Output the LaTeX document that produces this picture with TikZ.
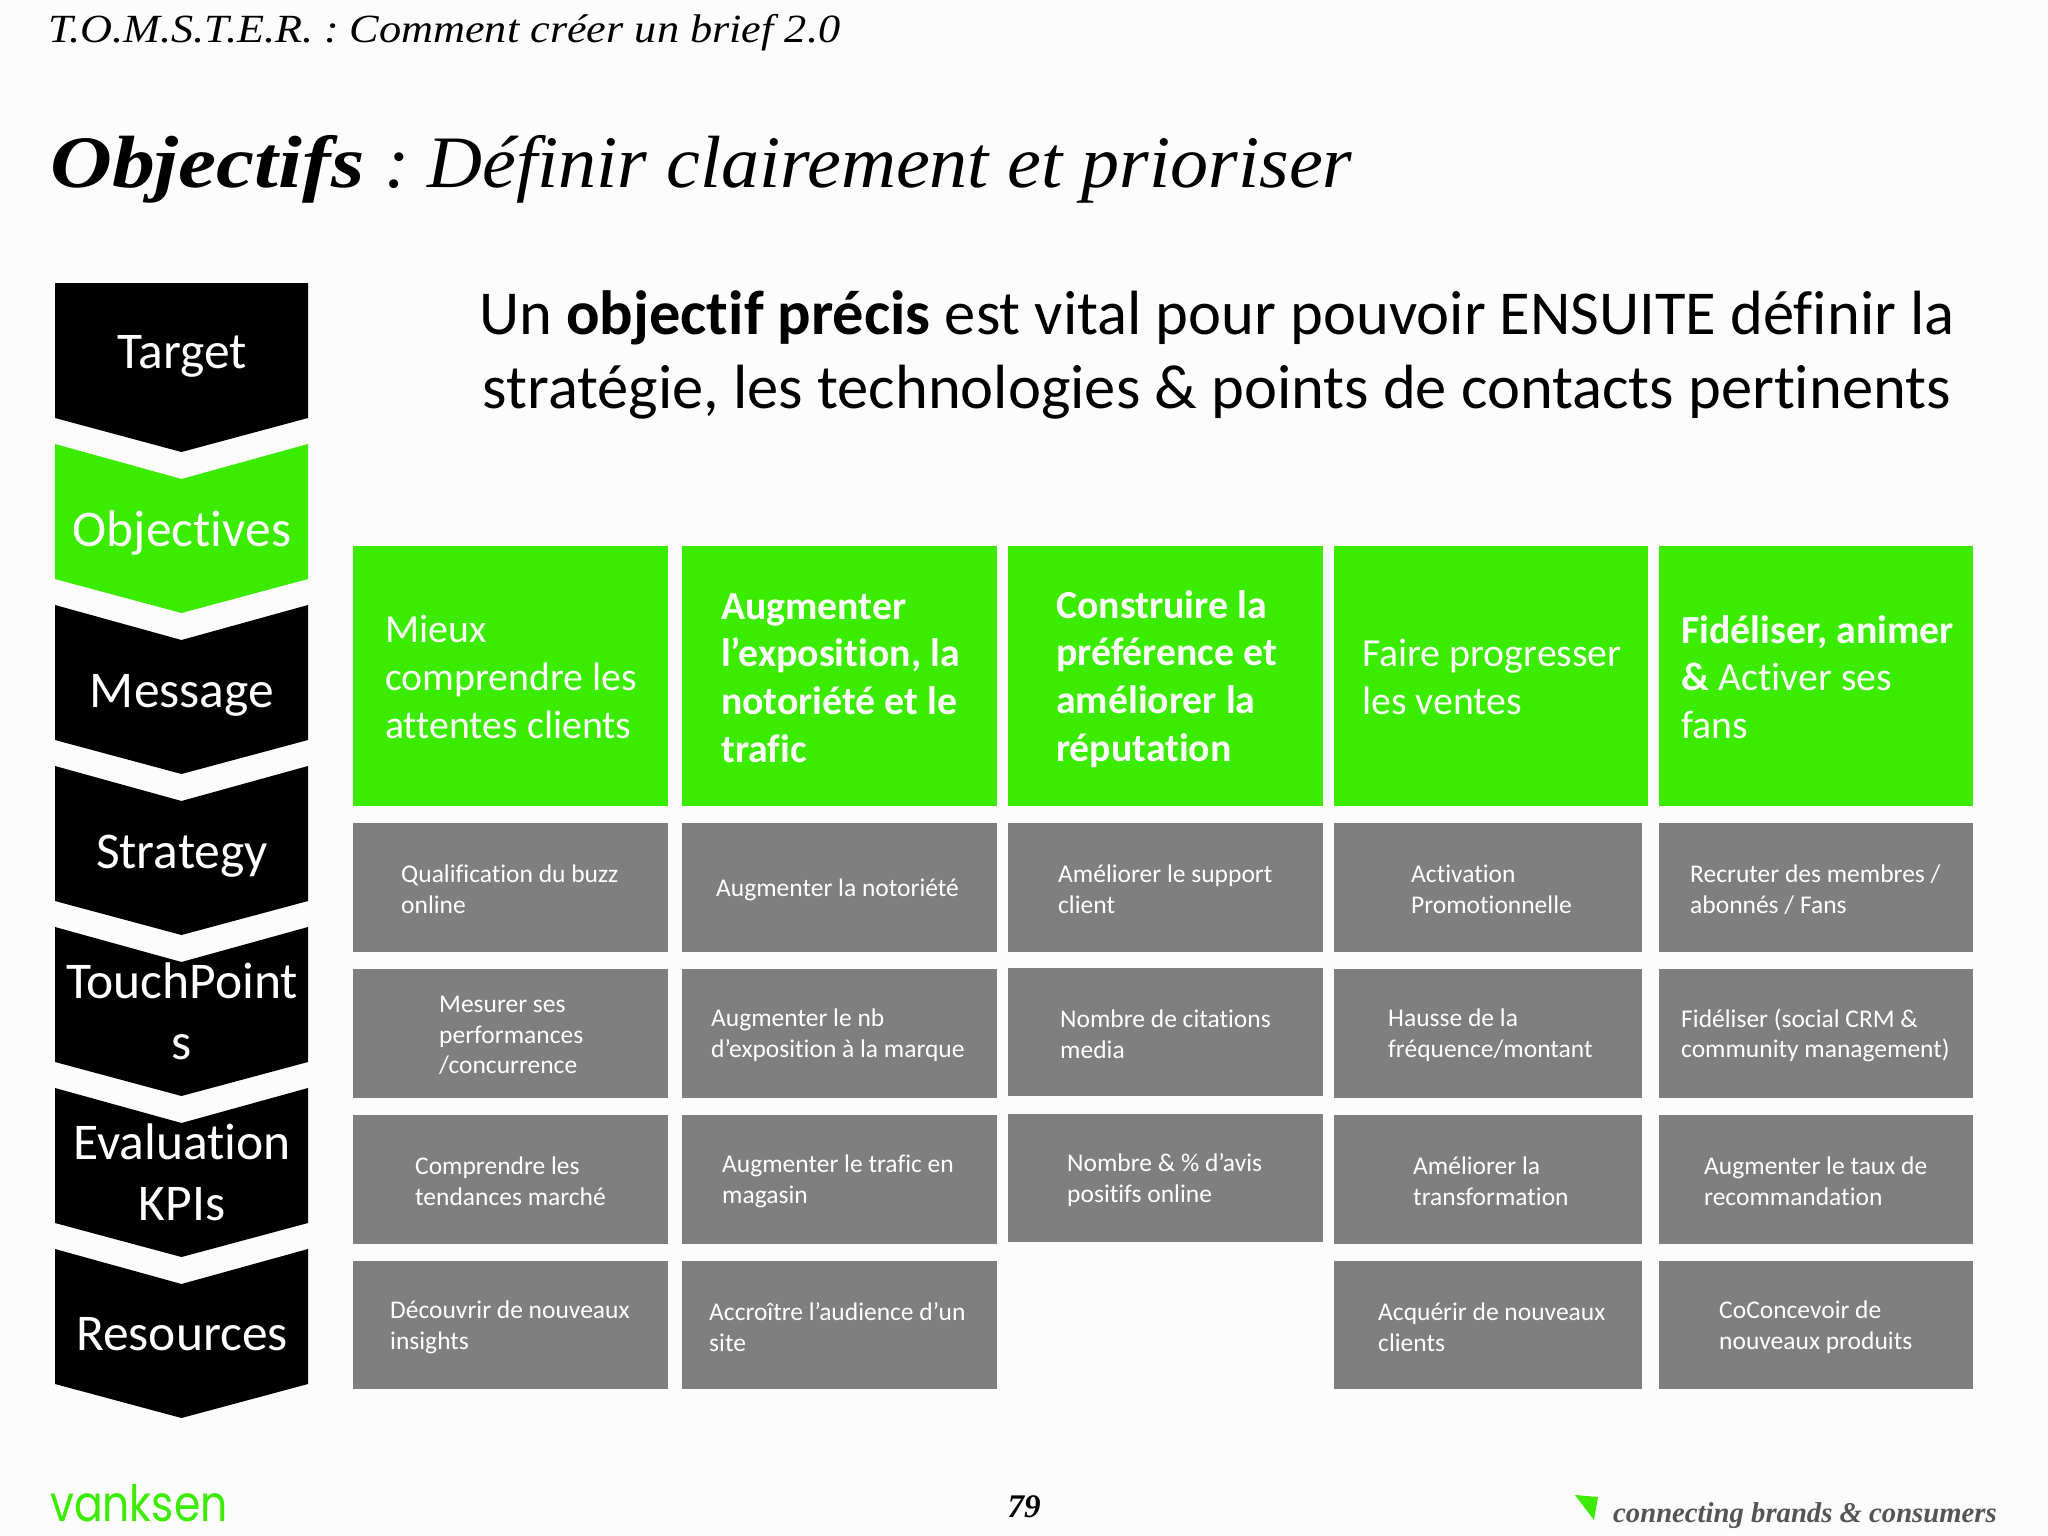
\documentclass[tikz,border=0pt]{standalone}
\usepackage{fontspec}
\setmainfont[Ligatures=NoCommon]{Carlito}
\newfontfamily\titlefont{Liberation Serif}
\newfontfamily\logofont{Poppins}
\definecolor{bggrey}{HTML}{FCFCFC}
\definecolor{vgreen}{HTML}{3BEB00}
\definecolor{vgrey}{HTML}{7F7F7F}
\definecolor{tagrey}{HTML}{555555}
\tikzset{
  chevblack/.style={fill=black},
  chevgreen/.style={fill=vgreen},
  chevtext/.style={text=white,align=center,inner sep=0pt,font=\fontsize{51.5}{61}\selectfont},
  headtext/.style={text=white,align=left,anchor=west,inner sep=0pt,font=\fontsize{39.8}{47.7}\selectfont},
  celltext/.style={text=white,align=left,anchor=west,inner sep=0pt,font=\fontsize{25.5}{30.7}\selectfont},
}
\newcommand{\chev}[2]{\path[#2] (55,#1) -- ++(126.5,35) -- ++(126.5,-35) -- ++(0,135) -- ++(-126.5,34) -- ++(-126.5,-34) -- cycle;}
\newcommand{\headbox}[6]{\fill[vgreen] (#1,546) rectangle (#2,806);
  \node[headtext] (#3) at (#4,#5) {#6};}
\newcommand{\cellbox}[7]{\fill[vgrey] (#1,#3) rectangle (#2,#4);
  \node[celltext] (#5) at (#6,{(#3+#4)/2+2}) {#7};}
\begin{document}
\begin{tikzpicture}[x=1pt,y=-1pt]
\useasboundingbox (0,0) rectangle (2048,1536);
\fill[bggrey] (0,0) rectangle (2048,1536);
% titles
\node[anchor=west,inner sep=0pt,xscale=1.107,transform shape,font=\titlefont\itshape\fontsize{40}{46}\selectfont] (sup) at (48,33) {T.O.M.S.T.E.R. :\hspace{-4pt} Comment créer un brief 2.0};
\node[anchor=west,inner sep=0pt,xscale=1.158,transform shape,font=\titlefont\itshape\bfseries\fontsize{74}{84}\selectfont] (title) at (50,169) {Objectifs};
\node[anchor=west,inner sep=0pt,xscale=1.028,transform shape,font=\titlefont\itshape\fontsize{74}{84}\selectfont] (subtitle) at (384,169) {:\hspace{-7pt} Définir clairement et prioriser};
\node[align=center,inner sep=0pt,font=\fontsize{62.5}{74.6}\selectfont] (lead) at (1217,355) {Un \textbf{objectif précis} est vital pour pouvoir ENSUITE définir la\\stratégie, les technologies \& points de contacts pertinents};
% chevrons
\path[chevblack] (55,283) -- (308,283) -- (308,418) -- (181.5,452) -- (55,418) -- cycle;
\chev{444}{chevgreen}
\chev{605}{chevblack}
\chev{766}{chevblack}
\chev{927}{chevblack}
\chev{1088}{chevblack}
\chev{1249}{chevblack}
\node[chevtext] (target) at (182,356) {Target};
\node[chevtext] (objectives) at (182,533) {Objectives};
\node[chevtext] (message) at (182,695) {Message};
\node[chevtext] (strategy) at (182,856) {Strategy};
\node[chevtext] (touch) at (182,1011) {TouchPoint\\s};
\node[chevtext] (eval) at (182,1172) {Evaluation\\KPIs};
\node[chevtext] (resources) at (182,1334) {Resources};
% green headers
\headbox{353}{668}{h1}{385}{677}{Mieux\\comprendre les\\attentes clients}
\headbox{682}{997}{h2}{721}{678}{\textbf{Augmenter}\\\textbf{l’exposition, la}\\\textbf{notoriété et le}\\\textbf{trafic}}
\headbox{1008}{1323}{h3}{1056}{679}{\textbf{Construire la}\\\textbf{préférence et}\\\textbf{améliorer la}\\\textbf{réputation}}
\headbox{1334}{1648}{h4}{1362}{677}{Faire progresser\\les ventes}
\headbox{1659}{1973}{h5}{1681}{677}{\textbf{Fidéliser, animer}\\\textbf{\&} Activer ses\\fans}
% column 1
\cellbox{353}{668}{823}{952}{a1}{401}{Qualification du buzz\\online}
\cellbox{353}{668}{969}{1098}{a2}{439}{Mesurer ses\\performances\\/concurrence}
\cellbox{353}{668}{1115}{1244}{a3}{415}{Comprendre les\\tendances marché}
\cellbox{353}{668}{1261}{1389}{a4}{390}{Découvrir de nouveaux\\insights}
% column 2
\fill[vgrey] (682,823) rectangle (997,952);
\node[celltext] (b1) at (716,890) {Augmenter la notoriété};
\cellbox{682}{997}{969}{1098}{b2}{711}{Augmenter le nb\\d’exposition à la marque}
\cellbox{682}{997}{1115}{1244}{b3}{722}{Augmenter le trafic en\\magasin}
\cellbox{682}{997}{1261}{1389}{b4}{709}{Accroître l’audience d’un\\site}
% column 3
\cellbox{1008}{1323}{823}{952}{c1}{1058}{Améliorer le support\\client}
\cellbox{1008}{1323}{968}{1096}{c2}{1060}{Nombre de citations\\media}
\cellbox{1008}{1323}{1114}{1242}{c3}{1067}{Nombre \& \% d’avis\\positifs online}
% column 4
\cellbox{1334}{1642}{823}{952}{d1}{1411}{Activation\\Promotionnelle}
\cellbox{1334}{1642}{969}{1098}{d2}{1388}{Hausse de la\\fréquence/montant}
\cellbox{1334}{1642}{1115}{1244}{d3}{1413}{Améliorer la\\transformation}
\cellbox{1334}{1642}{1261}{1389}{d4}{1378}{Acquérir de nouveaux\\clients}
% column 5
\cellbox{1659}{1973}{823}{952}{e1}{1690}{Recruter des membres /\\abonnés / Fans}
\cellbox{1659}{1973}{969}{1098}{e2}{1681}{Fidéliser (social CRM \&\\community management)}
\cellbox{1659}{1973}{1115}{1244}{e3}{1704}{Augmenter le taux de\\recommandation}
\cellbox{1659}{1973}{1261}{1389}{e4}{1719}{CoConcevoir de\\nouveaux produits}
% footer
\node[anchor=west,inner sep=0pt,text=vgreen,xscale=.85,transform shape,font=\logofont\fontsize{50}{54}\selectfont] (logo) at (50,1503) {vanksen};
\node[inner sep=0pt,font=\titlefont\bfseries\itshape\fontsize{33}{38}\selectfont] (page) at (1024,1507) {79};
\fill[vgreen] (1575,1495) -- (1598,1497) -- (1594,1520) -- cycle;
\node[anchor=west,inner sep=0pt,text=tagrey,font=\titlefont\bfseries\itshape\fontsize{28.7}{34}\selectfont] (tag) at (1613,1516) {connecting brands \& consumers};
\end{tikzpicture}
\end{document}
